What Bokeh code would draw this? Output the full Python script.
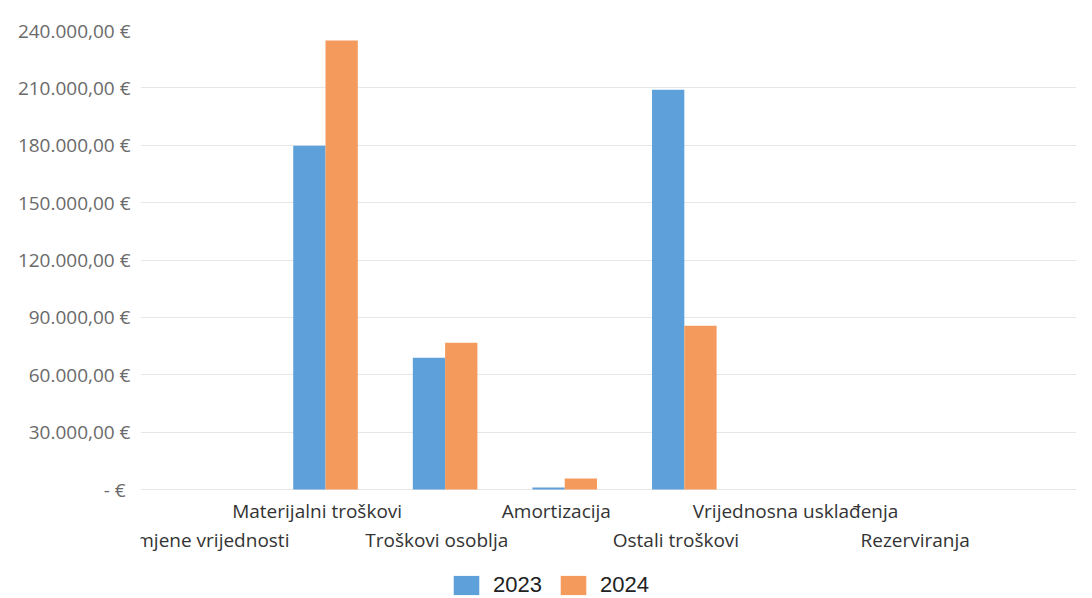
from bokeh.plotting import figure
from bokeh.models import (Range1d, FixedTicker, Legend, LegendItem, ColumnDataSource)
from bokeh.core.properties import value
from bokeh.transform import dodge
from bokeh.embed import file_html
from bokeh.resources import INLINE

categories = ["Promjene vrijednosti", "Materijalni troškovi", "Troškovi osoblja",
              "Amortizacija", "Ostali troškovi", "Vrijednosna usklađenja", "Rezerviranja"]
values_2023 = [0, 179800, 68900, 1000, 209000, 0, 0]
values_2024 = [0, 234800, 76700, 5700, 85600, 0, 0]
series_names = ["2023", "2024"]
series_colors = ["#5DA0DA", "#F39A5C"]
y_ticks = [0, 30000, 60000, 90000, 120000, 150000, 180000, 210000, 240000]


def eur(v):
    if v == 0:
        return "-  €"
    s = f"{v:,.2f}".replace(",", "X").replace(".", ",").replace("X", ".")
    return s + " €"


Y_MAX = 240000
PLOT_PX = 459          # pixels between 0 and Y_MAX
EXTRA_PX = 109         # room below zero for category labels and legend
units_per_px = Y_MAX / PLOT_PX

xs = list(range(len(categories)))
src = ColumnDataSource(dict(x=xs, v23=values_2023, v24=values_2024))

p = figure(frame_width=936, frame_height=PLOT_PX + EXTRA_PX, output_backend="svg",
           toolbar_location=None,
           x_range=Range1d(-0.547, 7.279),
           y_range=Range1d(-EXTRA_PX * units_per_px, Y_MAX),
           min_border_top=30, min_border_right=0, min_border_left=140,
           min_border_bottom=0)
p.outline_line_color = None
p.background_fill_color = "white"
p.border_fill_color = "white"

r1 = p.vbar(x=dodge("x", -0.135, range=p.x_range), top="v23", width=0.27, source=src,
            fill_color=series_colors[0], line_color=None)
r2 = p.vbar(x=dodge("x", 0.135, range=p.x_range), top="v24", width=0.27, source=src,
            fill_color=series_colors[1], line_color=None)

# y axis
p.yaxis.ticker = FixedTicker(ticks=y_ticks)
p.yaxis.major_label_overrides = {t: eur(t) for t in y_ticks}
p.yaxis.axis_line_color = None
p.yaxis.major_tick_line_color = None
p.yaxis.minor_tick_line_color = None
p.yaxis.major_tick_out = 0
p.yaxis.major_tick_in = 0
p.yaxis.major_label_standoff = 10
p.yaxis.major_label_text_font = "Open Sans"
p.yaxis.major_label_text_font_size = "19px"
p.yaxis.major_label_text_color = "#6a6a6a"

p.ygrid.ticker = FixedTicker(ticks=y_ticks)
p.ygrid.grid_line_color = "#e6e6e6"
p.xgrid.grid_line_color = None
p.xaxis.visible = False

# staggered category labels (two rows), slightly left of the bar-pair centres
label_shift = 0.07
row_offsets_px = [50, 21]   # even-index row lower, odd-index row upper
for parity in (0, 1):
    idx = [i for i in xs if i % 2 == parity]
    p.text(x=[i - label_shift for i in idx],
           y=[-row_offsets_px[parity] * units_per_px] * len(idx),
           text=[categories[i] for i in idx],
           text_font=value("Open Sans"), text_font_size="19px",
           text_color="#333333", text_align="center", text_baseline="middle")

legend = Legend(items=[LegendItem(label=series_names[0], renderers=[r1]),
                       LegendItem(label=series_names[1], renderers=[r2])],
                orientation="horizontal", location=(310, 0))
legend.border_line_color = None
legend.background_fill_alpha = 0
legend.padding = 0
legend.margin = 0
legend.spacing = 15
legend.glyph_width = 32
legend.glyph_height = 24
legend.label_text_font = "Liberation Sans"
legend.label_text_font_size = "22px"
legend.label_text_color = "#222222"
legend.label_standoff = 11
p.add_layout(legend, "center")

open("out.html", "w").write(file_html(p, INLINE))
